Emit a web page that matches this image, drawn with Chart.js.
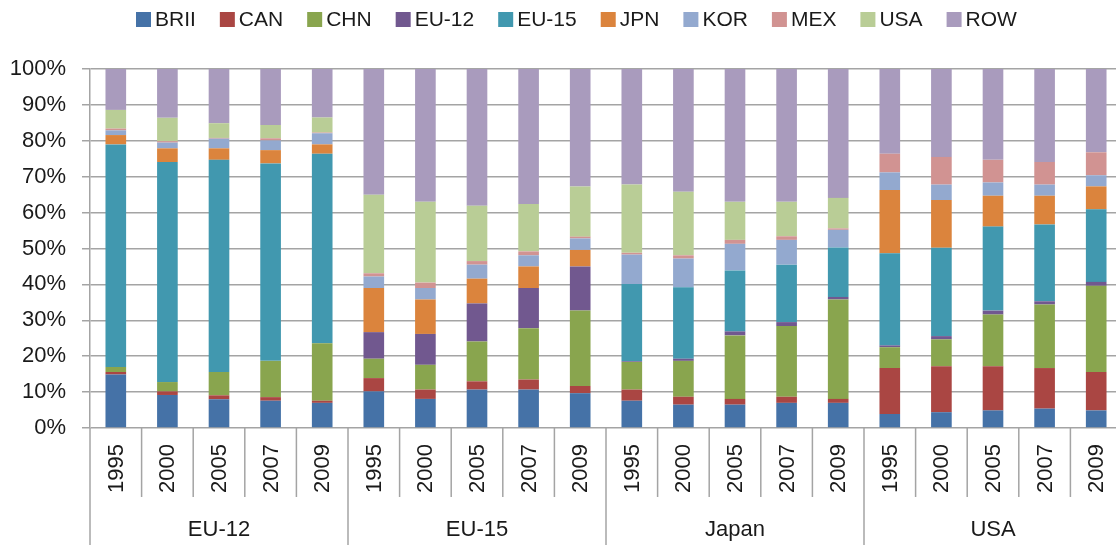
<!DOCTYPE html>
<html>
<head>
<meta charset="utf-8">
<script src="https://cdn.jsdelivr.net/npm/chart.js@4/dist/chart.umd.min.js"></script>
<style>
  html, body { margin: 0; padding: 0; overflow: hidden; background: #fff; }
  #wrap { width: 1124px; height: 545px; position: absolute; left: 0; top: 0; }
</style>
</head>
<body>
<div id="wrap"><canvas id="c" width="1124" height="545"></canvas></div>
<script>
// ---- data ----
const groups = ["EU-12", "EU-15", "Japan", "USA"];
const years = ["1995", "2000", "2005", "2007", "2009"];
const seriesNames = ["BRII", "CAN", "CHN", "EU-12", "EU-15", "JPN", "KOR", "MEX", "USA", "ROW"];
const seriesColors = ["#4572A7", "#AA4643", "#89A54E", "#71588F", "#4198AF", "#DB843D", "#93A9CF", "#D19392", "#B9CD96", "#A99BBD"];

const BRII = [14.9, 9.2, 8.0, 7.6, 7.0,   10.2, 8.1, 10.7, 10.7, 9.7,   7.6, 6.5, 6.5, 7.0, 7.0,   3.9, 4.4, 4.9, 5.4, 4.9];
const CAN  = [0.7, 1.0, 1.1, 1.0, 0.6,    3.7, 2.6, 2.3, 2.8, 2.0,      3.1, 2.2, 1.6, 1.7, 1.1,   12.8, 12.8, 12.3, 11.3, 10.7];
const CHN  = [1.4, 2.6, 6.5, 10.1, 16.0,  5.4, 6.9, 11.1, 14.3, 21.0,   7.7, 10.0, 17.7, 19.7, 27.7, 5.8, 7.5, 14.4, 17.7, 24.0];
const EU12 = [0, 0, 0, 0, 0,              7.4, 8.6, 10.6, 11.2, 12.3,   0.2, 0.6, 1.1, 1.1, 0.7,   0.5, 0.9, 1.1, 0.9, 1.1];
const EU15 = [62.0, 61.3, 59.1, 55.0, 52.8, 0, 0, 0, 0, 0,              21.5, 19.9, 17.0, 16.0, 13.8, 25.7, 24.6, 23.4, 21.4, 20.2];
const JPN  = [2.6, 3.8, 3.2, 3.7, 2.6,    12.3, 9.6, 6.9, 6.0, 4.6,     0, 0, 0, 0, 0,             17.6, 13.3, 8.6, 8.0, 6.4];
const KOR  = [1.3, 1.6, 2.7, 2.7, 3.1,    3.2, 3.2, 3.9, 3.1, 3.2,      8.2, 8.0, 7.4, 6.9, 4.9,   4.9, 4.3, 3.7, 3.1, 3.1];
const MEX  = [0.5, 0.4, 0.2, 0.6, 0.2,    0.9, 1.5, 1.0, 1.1, 0.5,      0.5, 0.9, 1.1, 1.0, 0.4,   5.2, 7.7, 6.3, 6.3, 6.4];
const USA  = [5.2, 6.5, 4.1, 3.7, 4.2,    21.9, 22.5, 15.4, 13.2, 14.0, 19.0, 17.7, 10.6, 9.6, 8.5, 0, 0, 0, 0, 0];
const ROW  = [11.4, 13.6, 15.1, 15.6, 13.6, 35.0, 37.0, 38.1, 37.6, 32.7, 32.2, 34.2, 37.0, 37.0, 35.9, 23.6, 24.5, 25.3, 25.9, 23.2];

const yTicks = [0, 10, 20, 30, 40, 50, 60, 70, 80, 90, 100];

const seriesValues = [BRII, CAN, CHN, EU12, EU15, JPN, KOR, MEX, USA, ROW];
const categoryLabels = [];
groups.forEach(g => years.forEach(y => categoryLabels.push(g + " " + y)));

const GRID = "#a4a4a4";
const TEXT = "#1a1a1a";
const FONT = "Liberation Sans, Arial, sans-serif";

const overlay = {
  id: "overlay",
  afterDraw(chart) {
    const ctx = chart.ctx;
    const xs = chart.scales.x;
    const area = chart.chartArea;
    const n = categoryLabels.length;
    const cw = (area.right - area.left) / n;
    ctx.save();
    // dividers
    ctx.strokeStyle = GRID;
    ctx.lineWidth = 1.5;
    for (let k = 0; k <= n; k++) {
      const x = area.left + k * cw;
      const long = k % years.length === 0;
      ctx.beginPath();
      ctx.moveTo(x, area.bottom);
      ctx.lineTo(x, long ? 545 : 497);
      ctx.stroke();
    }
    // year labels
    ctx.fillStyle = TEXT;
    ctx.font = "22px " + FONT;
    for (let i = 0; i < n; i++) {
      const x = xs.getPixelForValue(i);
      ctx.save();
      ctx.translate(x + 1, area.bottom + 16);
      ctx.rotate(-Math.PI / 2);
      ctx.textAlign = "right";
      ctx.textBaseline = "middle";
      ctx.fillText(years[i % years.length], 0, 0);
      ctx.restore();
    }
    // group labels
    ctx.textAlign = "center";
    ctx.textBaseline = "middle";
    groups.forEach((g, gi) => {
      const x = area.left + (gi + 0.5) * years.length * cw;
      ctx.fillText(g, x, 530);
    });
    // legend
    ctx.font = "21px " + FONT;
    ctx.textAlign = "left";
    let lx = 136;
    chart.data.datasets.forEach(ds => {
      ctx.fillStyle = ds.backgroundColor;
      ctx.fillRect(lx, 12, 15, 15);
      ctx.fillStyle = TEXT;
      const tx = lx + 19;
      ctx.fillText(ds.label, tx, 20);
      lx = tx + ctx.measureText(ds.label).width + 24;
    });
    ctx.restore();
  }
};

new Chart(document.getElementById("c"), {
  type: "bar",
  data: {
    labels: categoryLabels,
    datasets: seriesNames.map((name, i) => ({
      label: name,
      data: seriesValues[i],
      backgroundColor: seriesColors[i],
      borderWidth: 0,
      barPercentage: 0.4,
      categoryPercentage: 1.0
    }))
  },
  options: {
    responsive: false,
    devicePixelRatio: 1,
    animation: false,
    layout: { padding: { top: 69, right: 2, left: 0, bottom: 0 } },
    plugins: { legend: { display: false }, tooltip: { enabled: false } },
    scales: {
      x: {
        stacked: true,
        ticks: { display: false },
        grid: { display: false },
        border: { display: false },
        afterFit: s => { s.height = 117; }
      },
      y: {
        stacked: true,
        min: 0,
        max: 100,
        afterBuildTicks: s => { s.ticks = yTicks.map(v => ({ value: v })); },
        ticks: {
          callback: v => v + "%",
          color: TEXT,
          font: { family: FONT, size: 22 },
          padding: 16
        },
        grid: { color: GRID, lineWidth: 1.5, tickLength: 8, drawTicks: true },
        border: { display: true, color: GRID, width: 1.5 },
        afterFit: s => { s.width = 90; }
      }
    }
  },
  plugins: [overlay]
});
</script>
</body>
</html>
